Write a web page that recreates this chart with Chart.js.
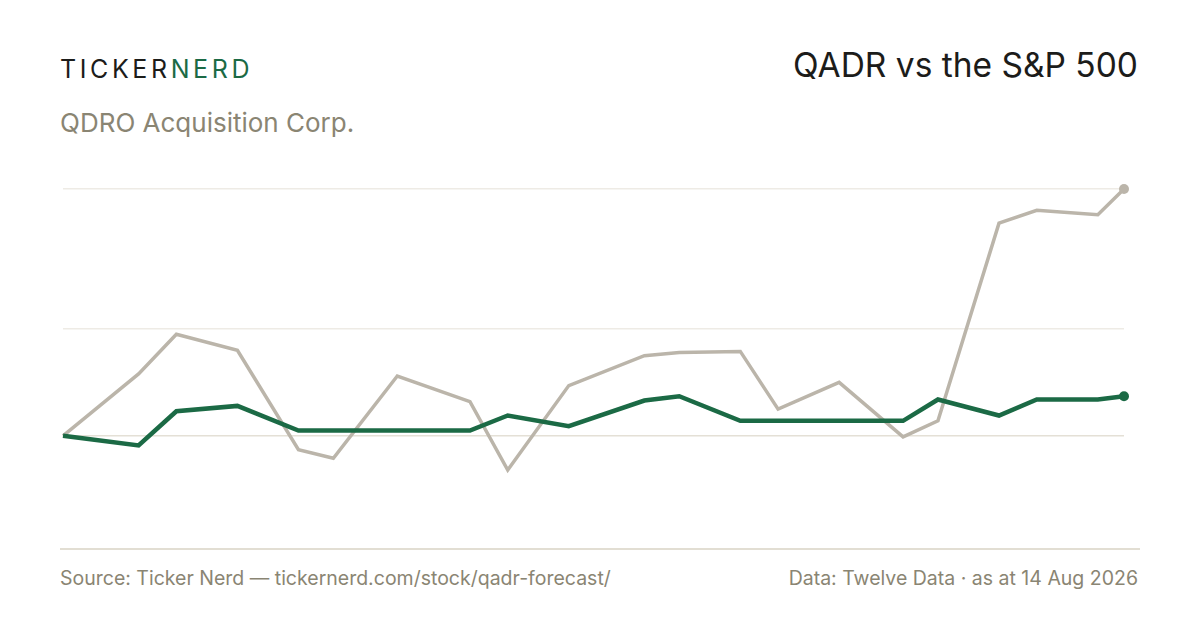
<!DOCTYPE html>
<html>
<head>
<meta charset="utf-8">
<script src="https://cdn.jsdelivr.net/npm/chart.js@4.4.1/dist/chart.umd.min.js"></script>
<style>
  html, body { margin: 0; padding: 0; background: #fff; }
  body { width: 1200px; height: 630px; position: relative; overflow: hidden; font-family: Inter, "Noto Sans", sans-serif; }
  .brand { position: absolute; left: 60px; top: 57px; font-size: 25px; line-height: 1; letter-spacing: 3.6px; color: #1c1c1a; }
  .brand span { color: #1b6a45; }
  .sub { position: absolute; left: 60px; top: 110px; font-size: 26px; line-height: 1; color: #8a8573; }
  .title { position: absolute; right: 62px; top: 49px; font-size: 33.5px; line-height: 1; color: #1c1c1a; }
  .wrap { position: absolute; left: 50px; top: 175px; width: 1090px; height: 385px; }
  .base { position: absolute; left: 60px; top: 548px; width: 1080px; height: 0; border-top: 2px solid #e2ded3; }
  .foot { position: absolute; top: 569px; font-size: 19.5px; line-height: 1; color: #8a8573; }
</style>
</head>
<body>
<div class="brand">TICKER<span>NERD</span></div>
<div class="sub">QDRO Acquisition Corp.</div>
<div class="title">QADR vs the S&amp;P 500</div>
<div class="wrap"><canvas id="chart"></canvas></div>
<div class="base"></div>
<div class="foot" style="left:60px">Source: Ticker Nerd — tickernerd.com/stock/qadr-forecast/</div>
<div class="foot" style="right:62px">Data: Twelve Data · as at 14 Aug 2026</div>
<script>
// days since start of the window
let days = [0, 26, 39, 60, 81, 93, 115, 140, 153, 174, 200, 212, 233, 246, 267, 289, 301, 322, 335, 356, 365];
// % change from start
let qadr = [0, -0.9, 2.3, 2.8, 0.5, 0.5, 0.5, 0.5, 1.9, 0.9, 3.3, 3.7, 1.4, 1.4, 1.4, 1.4, 3.4, 1.9, 3.4, 3.4, 3.7];
let spx = [0, 5.8, 9.5, 8.0, -1.3, -2.1, 5.6, 3.2, -3.2, 4.7, 7.5, 7.8, 7.9, 2.5, 5.0, -0.1, 1.4, 19.9, 21.1, 20.7, 23.1];
let yTicks = [0, 10, 23.1];

let green = "#1b6a45";
let grey = "#bbb5aa";

function pts(values) {
  return days.map((d, i) => ({ x: d, y: values[i] }));
}

function lastDot(ctx) {
  return ctx.dataIndex === days.length - 1 ? 5 : 0;
}

new Chart(document.getElementById("chart"), {
  type: "line",
  data: {
    datasets: [
      {
        label: "QADR",
        data: pts(qadr),
        borderColor: green,
        backgroundColor: green,
        borderWidth: 4.5,
        pointRadius: lastDot,
        pointBorderWidth: 0,
        tension: 0,
        clip: false,
      },
      {
        label: "S&P 500",
        data: pts(spx),
        borderColor: grey,
        backgroundColor: grey,
        borderWidth: 3.5,
        pointRadius: lastDot,
        pointBorderWidth: 0,
        tension: 0,
        clip: false,
      },
    ],
  },
  options: {
    responsive: true,
    maintainAspectRatio: false,
    animation: false,
    events: [],
    layout: {
      padding: { left: 13, right: 16, top: 14, bottom: 12 },
    },
    plugins: {
      legend: { display: false },
      tooltip: { enabled: false },
    },
    scales: {
      x: {
        type: "linear",
        min: 0,
        max: 365,
        display: false,
      },
      y: {
        min: -10.5,
        max: 23.1,
        afterBuildTicks: (axis) => {
          axis.ticks = yTicks.map((v) => ({ value: v }));
        },
        ticks: { display: false },
        border: { display: false },
        grid: {
          drawTicks: false,
          lineWidth: 1.5,
          color: (ctx) => (ctx.tick && ctx.tick.value === 0 ? "#e4e0d6" : "#eeebe5"),
        },
      },
    },
  },
});
</script>
</body>
</html>
